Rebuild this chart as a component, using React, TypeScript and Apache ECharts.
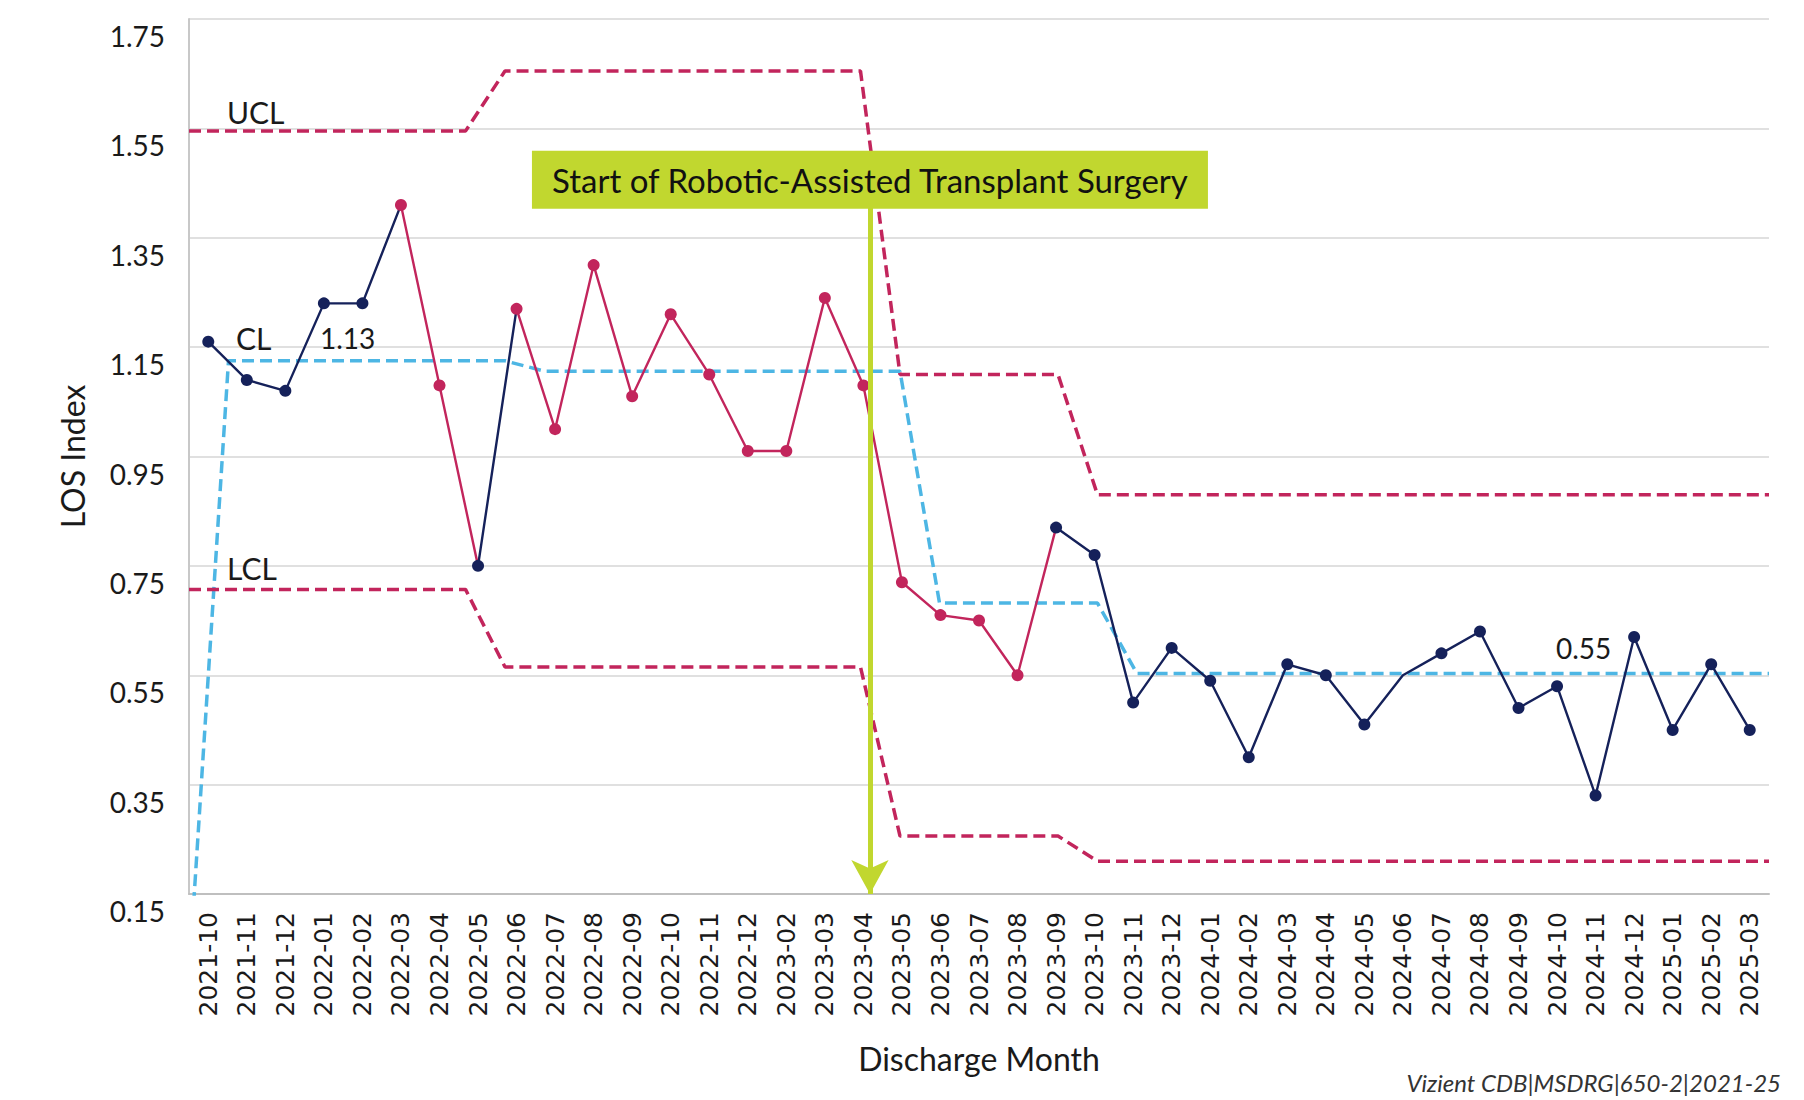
import React, { useEffect, useRef } from 'react';
import * as echarts from 'echarts';

// ---------- data ----------
const months = [
  '2021-10', '2021-11', '2021-12',
  '2022-01', '2022-02', '2022-03', '2022-04', '2022-05', '2022-06', '2022-07', '2022-08', '2022-09', '2022-10', '2022-11', '2022-12',
  '2023-02', '2023-03', '2023-04', '2023-05', '2023-06', '2023-07', '2023-08', '2023-09', '2023-10', '2023-11', '2023-12',
  '2024-01', '2024-02', '2024-03', '2024-04', '2024-05', '2024-06', '2024-07', '2024-08', '2024-09', '2024-10', '2024-11', '2024-12',
  '2025-01', '2025-02', '2025-03',
];

const losIndex = [
  1.16, 1.09, 1.07,
  1.23, 1.23, 1.41, 1.08, 0.75, 1.22, 1.0, 1.3, 1.06, 1.21, 1.1, 0.96,
  0.96, 1.24, 1.08, 0.72, 0.66, 0.65, 0.55, 0.82, 0.77, 0.5, 0.6,
  0.54, 0.4, 0.57, 0.55, 0.46, 0.55, 0.59, 0.63, 0.49, 0.53, 0.33, 0.62,
  0.45, 0.57, 0.45,
];

// N = navy (common cause), R = magenta (special cause signal)
const pointGroup = [
  'N', 'N', 'N',
  'N', 'N', 'R', 'R', 'N', 'R', 'R', 'R', 'R', 'R', 'R', 'R',
  'R', 'R', 'R', 'R', 'R', 'R', 'R', 'N', 'N', 'N', 'N',
  'N', 'N', 'N', 'N', 'N', 'N', 'N', 'N', 'N', 'N', 'N', 'N',
  'N', 'N', 'N',
];

const hiddenMarkers = ['2024-06'];

const ucl = [
  1.545, 1.545, 1.545, 1.545, 1.545, 1.545, 1.545, 1.545,
  1.655, 1.655, 1.655, 1.655, 1.655, 1.655, 1.655, 1.655, 1.655, 1.655,
  1.1, 1.1, 1.1, 1.1, 1.1,
  0.88, 0.88, 0.88, 0.88, 0.88, 0.88, 0.88, 0.88, 0.88, 0.88, 0.88, 0.88, 0.88, 0.88, 0.88, 0.88, 0.88, 0.88,
];

const cl = [
  0,
  1.125, 1.125, 1.125, 1.125, 1.125, 1.125, 1.125, 1.125,
  1.106, 1.106, 1.106, 1.106, 1.106, 1.106, 1.106, 1.106, 1.106, 1.106,
  0.682, 0.682, 0.682, 0.682, 0.682,
  0.553, 0.553, 0.553, 0.553, 0.553, 0.553, 0.553, 0.553, 0.553, 0.553, 0.553, 0.553, 0.553, 0.553, 0.553, 0.553, 0.553,
];

const lcl = [
  0.707, 0.707, 0.707, 0.707, 0.707, 0.707, 0.707, 0.707,
  0.565, 0.565, 0.565, 0.565, 0.565, 0.565, 0.565, 0.565, 0.565, 0.565,
  0.256, 0.256, 0.256, 0.256, 0.256,
  0.21, 0.21, 0.21, 0.21, 0.21, 0.21, 0.21, 0.21, 0.21, 0.21, 0.21, 0.21, 0.21, 0.21, 0.21, 0.21, 0.21, 0.21,
];

const yMin = 0.15;
const yMax = 1.75;
const yStep = 0.2;

const annotationText = 'Start of Robotic-Assisted Transplant Surgery';
const annotationPos = 17.17; // just after 2023-04
const annotationBoxValue = 1.456;
const sourceText = 'Vizient CDB|MSDRG|650-2|2021-25';

// ---------- styles ----------
const NAVY = '#15215A';
const RED = '#C2255C';
const BLUE = '#4DB6E4';
const LIME = '#C1D72F';
const TEXT = '#1a1a1a';
const FONT = 'Lato';

export default function App() {
  const ref = useRef<HTMLDivElement>(null);

  useEffect(() => {
    document.body.style.margin = '0';
    if (!ref.current) return;
    const chart = echarts.init(ref.current, null, { renderer: 'svg' });

    const n = months.length;
    const pieces: any[] = [];
    let start = 0;
    for (let i = 1; i <= n; i++) {
      if (i === n || pointGroup[i] !== pointGroup[start]) {
        pieces.push({ gte: start, lt: i, color: pointGroup[start] === 'R' ? RED : NAVY });
        start = i;
      }
    }

    const lineData = losIndex.map((v, i) =>
      hiddenMarkers.includes(months[i]) ? { value: v, symbol: 'none' } : { value: v }
    );

    const txtLabel = (text: string, dx: number, dy: number, size = 29) => ({
      show: true,
      formatter: text,
      position: [dx, dy],
      align: 'left',
      verticalAlign: 'middle',
      fontSize: size,
      fontFamily: FONT,
      color: TEXT,
    });

    const textMark = (coord: any[], text: string, dx: number, dy: number, size = 29) => ({
      coord,
      symbol: 'circle',
      symbolSize: 1,
      itemStyle: { color: 'rgba(0,0,0,0)' },
      label: txtLabel(text, dx, dy, size),
    });

    const dashed = (color: string) => ({ color, width: 3.5, type: [12, 6] as any });

    const option: any = {
      animation: false,
      backgroundColor: '#ffffff',
      grid: { left: 189, right: 35, top: 19, bottom: 206, containLabel: false },
      xAxis: [
        {
          type: 'category',
          data: months,
          boundaryGap: true,
          axisTick: { show: false },
          axisLine: { show: true, onZero: false, lineStyle: { color: '#BFBFBF', width: 2 } },
          axisLabel: {
            rotate: 90,
            interval: 0,
            margin: 18,
            fontSize: 25,
            fontFamily: 'DejaVu Sans',
            color: TEXT,
          },
          name: 'Discharge Month',
          nameLocation: 'middle',
          nameGap: 148,
          nameTextStyle: { fontSize: 32, fontFamily: FONT, color: TEXT },
        },
        {
          type: 'category',
          data: months,
          boundaryGap: false,
          show: false,
        },
        {
          type: 'value',
          min: -0.5,
          max: n - 0.5,
          show: false,
        },
      ],
      yAxis: {
        type: 'value',
        min: yMin,
        max: yMax,
        interval: yStep,
        axisTick: { show: false },
        axisLine: { show: true, onZero: false, lineStyle: { color: '#C8C8C8', width: 2 } },
        splitLine: { show: true, lineStyle: { color: '#D6D6D6', width: 1.5 } },
        axisLabel: {
          formatter: (v: number) => v.toFixed(2),
          fontSize: 28,
          fontFamily: FONT,
          color: TEXT,
          margin: 24,
          verticalAlign: 'top',
          lineHeight: 34,
        },
        name: 'LOS Index',
        nameLocation: 'middle',
        nameGap: 101,
        nameTextStyle: { fontSize: 32, fontFamily: FONT, color: TEXT },
      },
      visualMap: {
        type: 'piecewise',
        show: false,
        dimension: 0,
        seriesIndex: 3,
        pieces,
        outOfRange: { color: NAVY },
      },
      series: [
        {
          name: 'UCL',
          type: 'line',
          xAxisIndex: 1,
          data: ucl,
          symbol: 'none',
          lineStyle: dashed(RED),
          z: 2,
          markPoint: { silent: true, data: [textMark([months[1], ucl[1]], 'UCL', -1, -19, 30)] },
        },
        {
          name: 'CL',
          type: 'line',
          xAxisIndex: 1,
          data: cl,
          symbol: 'none',
          lineStyle: dashed(BLUE),
          z: 2,
          markPoint: {
            silent: true,
            data: [
              textMark([months[1], cl[1]], 'CL', 8, -22, 30),
              textMark([months[3], cl[3]], '1.13', 13, -22, 28),
              textMark([months[35], cl[35]], '0.55', -15, -25, 28),
            ],
          },
        },
        {
          name: 'LCL',
          type: 'line',
          xAxisIndex: 1,
          data: lcl,
          symbol: 'none',
          lineStyle: dashed(RED),
          z: 2,
          markPoint: { silent: true, data: [textMark([months[1], lcl[1]], 'LCL', -1, -21, 30)] },
        },
        {
          name: 'LOS Index',
          type: 'line',
          xAxisIndex: 0,
          data: lineData,
          symbol: 'circle',
          symbolSize: 12,
          showAllSymbol: true,
          lineStyle: { width: 2.4 },
          z: 4,
        },
        {
          name: 'Annotation',
          type: 'line',
          xAxisIndex: 2,
          data: [],
          z: 8,
          markLine: {
            silent: true,
            symbol: ['none', 'arrow'],
            symbolSize: [28, 34],
            lineStyle: { color: LIME, width: 5, type: 'solid' },
            label: { show: false },
            data: [[{ coord: [annotationPos, annotationBoxValue] }, { coord: [annotationPos, yMin] }]],
          },
          markPoint: {
            silent: true,
            symbol: 'rect',
            symbolSize: [676, 58],
            itemStyle: { color: LIME },
            label: {
              show: true,
              position: 'inside',
              formatter: annotationText,
              fontSize: 33,
              fontFamily: FONT,
              color: '#111',
            },
            data: [{ coord: [annotationPos, annotationBoxValue] }],
          },
        },
      ],
      graphic: [
        {
          type: 'text',
          right: 23,
          top: 1070,
          style: {
            text: sourceText,
            fontSize: 24,
            fontStyle: 'italic',
            fontFamily: FONT,
            fill: '#333',
          },
        },
      ],
    };

    chart.setOption(option);
    return () => chart.dispose();
  }, []);

  return <div ref={ref} style={{ width: 1804, height: 1100 }} />;
}
